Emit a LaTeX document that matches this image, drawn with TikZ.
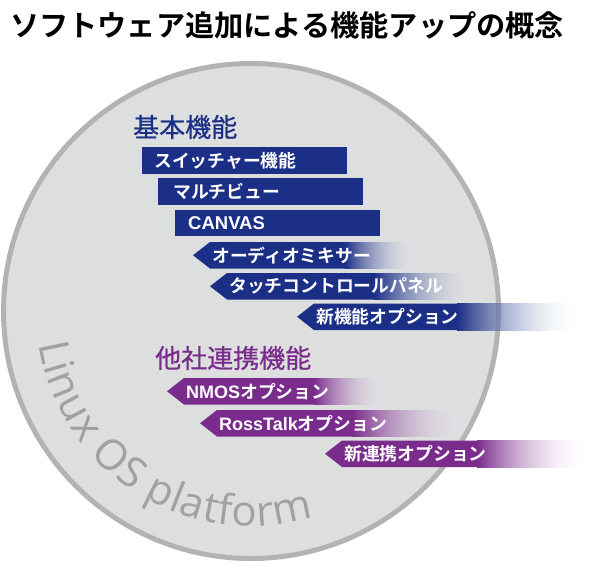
\documentclass[tikz,border=0pt]{standalone}
\usepackage{fontspec}
\usetikzlibrary{positioning,calc,fadings,decorations.text}
\newfontfamily\jpfont{Noto Sans CJK JP}[BoldFont={Noto Sans CJK JP Bold}]
\newfontfamily\jpmid{Noto Sans CJK JP}[FakeBold=0.7]
\newfontfamily\latfont{Liberation Sans}
\newfontfamily\platfont{Open Sans}
\definecolor{navy}{RGB}{27,47,135}
\definecolor{plum}{RGB}{122,44,140}
\definecolor{discfill}{RGB}{221,222,222}
\definecolor{discline}{RGB}{178,179,179}
\definecolor{osgray}{RGB}{160,161,161}
\tikzset{
  disc/.style={circle,fill=discfill,draw=discline,line width=5pt,minimum size=495pt,inner sep=0pt},
  heading/.style={text=#1,font=\jpmid\fontsize{26}{26}\selectfont,anchor=west,inner sep=0pt},
  heading/.default=navy,
  bar/.style={fill=#1,text=white,anchor=north west,minimum width=205pt,minimum height=26.5pt,
    inner xsep=12pt,inner ysep=0pt,text width=181pt,font=\jpfont\bfseries\fontsize{17.8}{17.8}\selectfont},
  bar/.default=navy,
  bartext/.style={text=white,anchor=west,inner sep=0pt,font=\jpfont\bfseries\fontsize{17.8}{17.8}\selectfont},
}
% one arrow-shaped bar that fades out to the right
\newcommand\fadebar[6]{%
  \fill[#1] (#2,-#3-13.25) -- (#2+17,-#3) -- (#4+0.5,-#3) -- (#4+0.5,-#3-26.5) -- (#2+17,-#3-26.5) -- cycle;
  \shade[left color=#1,right color=white,path fading=east] (#4,-#3) rectangle (#5,-#3-26.5);
  \node[bartext] (#6) at (#2+19,-#3-13.25) {\strut};
}
\begin{document}
\begin{tikzpicture}[x=1pt,y=1pt]
  \useasboundingbox (0,0) rectangle (600,-571);
  \node[font=\jpfont\bfseries\fontsize{29.2}{29.2}\selectfont,anchor=west,inner sep=0pt] (title) at (10,-25)
    {ソフトウェア追加による機能アップの概念};
  \node[disc] (disc) at (251,-311) {};
  \path[decorate,decoration={text along path,text align=fit to path,text color=osgray,
      text={|\platfont\fontsize{42}{42}\selectfont|Linux OS platform}}]
    ($(disc.center)+(189:215)$) arc[start angle=189,end angle=287,radius=215];

  \node[heading] (basic) at (133,-127) {基本機能};
  \node[bar] (sw) at (142,-147) {スイッチャー機能};
  \node[bar] (mv) at (158,-178) {\hspace*{3pt}マルチビュー};
  \node[bar] (cv) at (175,-209.5) {\hspace*{1pt}{\latfont\bfseries\fontsize{18.5}{18.5}\selectfont CANVAS}};
  \foreach \tx/\ty/\se/\fe/\nm/\lbl in {193/242/345/420/am/オーディオミキサー,
      210/273/374/482/tp/タッチコントロールパネル,297/303.5/457/580/nf/新機能オプション} {
    \fadebar{navy}{\tx}{\ty}{\se}{\fe}{\nm}
    \node[bartext] at (\nm.west) [anchor=west] {\lbl};
  }

  \node[heading=plum] (coop) at (155,-358) {他社連携機能};
  \foreach \tx/\ty/\se/\fe/\nm/\lbl in {167/378/314/390/nm/{{\latfont\bfseries\fontsize{18}{18}\selectfont NMOS}オプション},
      200/410/352/472/rt/{{\latfont\bfseries\fontsize{18}{18}\selectfont RossTalk}オプション},
      325/440.5/477/588/nc/新連携オプション} {
    \fadebar{plum}{\tx}{\ty}{\se}{\fe}{\nm}
    \node[bartext] at (\nm.west) [anchor=west] {\lbl};
  }
\end{tikzpicture}
\end{document}
